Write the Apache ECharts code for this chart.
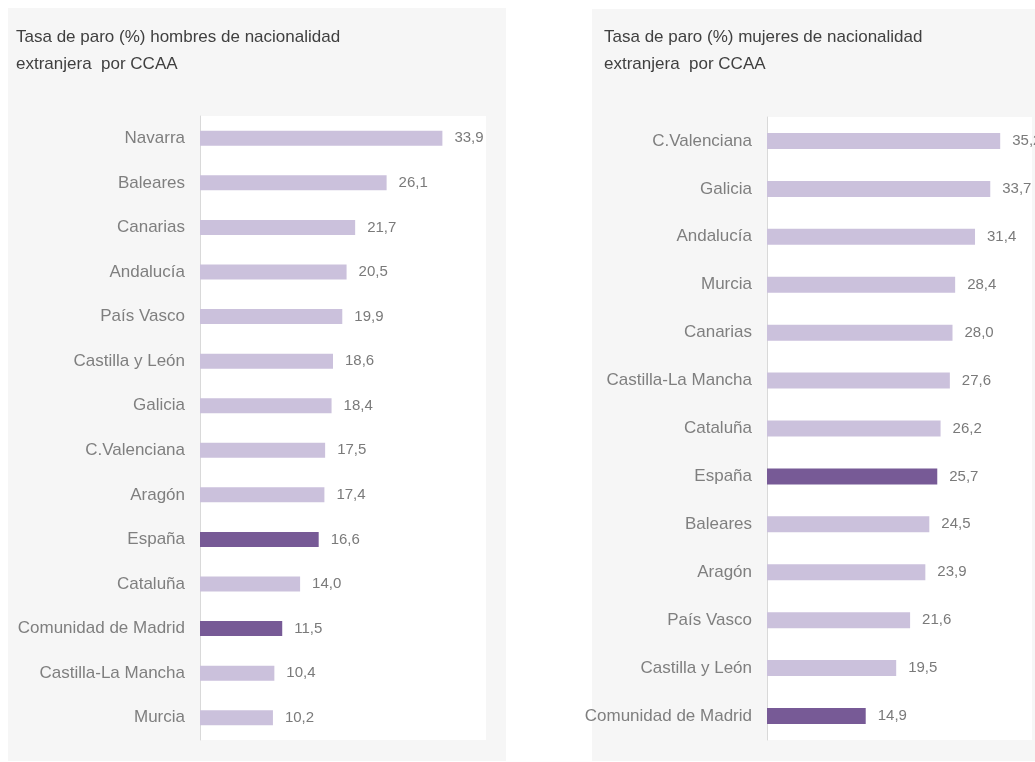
<!DOCTYPE html>
<html>
<head>
<meta charset="utf-8">
<script src="https://cdn.jsdelivr.net/npm/echarts@6/dist/echarts.min.js"></script>
<style>
  html, body { margin: 0; padding: 0; background: #ffffff; }
  #chart { width: 1035px; height: 762px; }
</style>
</head>
<body>
<div id="chart"></div>
<script>
// hombres
const catHombres = ['Navarra', 'Baleares', 'Canarias', 'Andalucía', 'País Vasco', 'Castilla y León', 'Galicia',
  'C.Valenciana', 'Aragón', 'España', 'Cataluña', 'Comunidad de Madrid', 'Castilla-La Mancha', 'Murcia']
const valHombres = [33.9, 26.1, 21.7, 20.5, 19.9, 18.6, 18.4, 17.5, 17.4, 16.6, 14.0, 11.5, 10.4, 10.2]

// mujeres
const catMujeres = ['C.Valenciana', 'Galicia', 'Andalucía', 'Murcia', 'Canarias', 'Castilla-La Mancha', 'Cataluña',
  'España', 'Baleares', 'Aragón', 'País Vasco', 'Castilla y León', 'Comunidad de Madrid']
const valMujeres = [35.2, 33.7, 31.4, 28.4, 28.0, 27.6, 26.2, 25.7, 24.5, 23.9, 21.6, 19.5, 14.9]

const destacados = ['España', 'Comunidad de Madrid']

const FONT = "'Liberation Sans Narrow', 'Arial Narrow', 'Liberation Sans', Arial, sans-serif"
const light = '#cbc1dc'
const dark = '#775a96'

function barData(cats, vals) {
    return vals.map((v, i) => ({
        value: v,
        itemStyle: { color: destacados.includes(cats[i]) ? dark : light }
    }))
}

function yAx(idx, cats) {
    return {
        type: 'category', gridIndex: idx, data: cats, inverse: true,
        axisLine: { show: true, lineStyle: { color: '#d9d9d9', width: 1 } },
        axisTick: { show: false },
        axisLabel: { color: '#7f7f7f', fontSize: 17, fontFamily: FONT, margin: 15 }
    }
}

function xAx(idx) {
    return {
        type: 'value', gridIndex: idx, min: 0, max: 40,
        show: false, splitLine: { show: false }
    }
}

function serie(idx, cats, vals, bw) {
    return {
        type: 'bar', xAxisIndex: idx, yAxisIndex: idx,
        data: barData(cats, vals),
        barWidth: bw,
        label: {
            show: true, position: 'right', distance: 12,
            color: '#7a7a7a', fontSize: 15, fontFamily: FONT,
            formatter: p => p.value.toFixed(1).replace('.', ',')
        },
        silent: true
    }
}

const chart = echarts.init(document.getElementById('chart'))
chart.setOption({
    animation: false,
    graphic: [
        { type: 'rect', z: -10, shape: { x: 8, y: 8, width: 498, height: 753 }, style: { fill: '#f6f6f6' } },
        { type: 'rect', z: -10, shape: { x: 592, y: 9, width: 450, height: 752 }, style: { fill: '#f6f6f6' } }
    ],
    title: [
        {
            text: 'Tasa de paro (%) hombres de nacionalidad\nextranjera  por CCAA',
            left: 16, top: 24, padding: 0,
            textStyle: { color: '#404040', fontSize: 17, fontWeight: 'normal', fontFamily: FONT, lineHeight: 27 }
        },
        {
            text: 'Tasa de paro (%) mujeres de nacionalidad\nextranjera  por CCAA',
            left: 604, top: 24, padding: 0,
            textStyle: { color: '#404040', fontSize: 17, fontWeight: 'normal', fontFamily: FONT, lineHeight: 27 }
        }
    ],
    grid: [
        { left: 200, top: 116, width: 286, height: 624, show: true, backgroundColor: '#ffffff', borderWidth: 0, outerBoundsMode: 'none' },
        { left: 767, top: 117, width: 265, height: 623, show: true, backgroundColor: '#ffffff', borderWidth: 0, outerBoundsMode: 'none' }
    ],
    xAxis: [ xAx(0), xAx(1) ],
    yAxis: [ yAx(0, catHombres), yAx(1, catMujeres) ],
    series: [
        serie(0, catHombres, valHombres, 15),
        serie(1, catMujeres, valMujeres, 16)
    ]
})
</script>
</body>
</html>
